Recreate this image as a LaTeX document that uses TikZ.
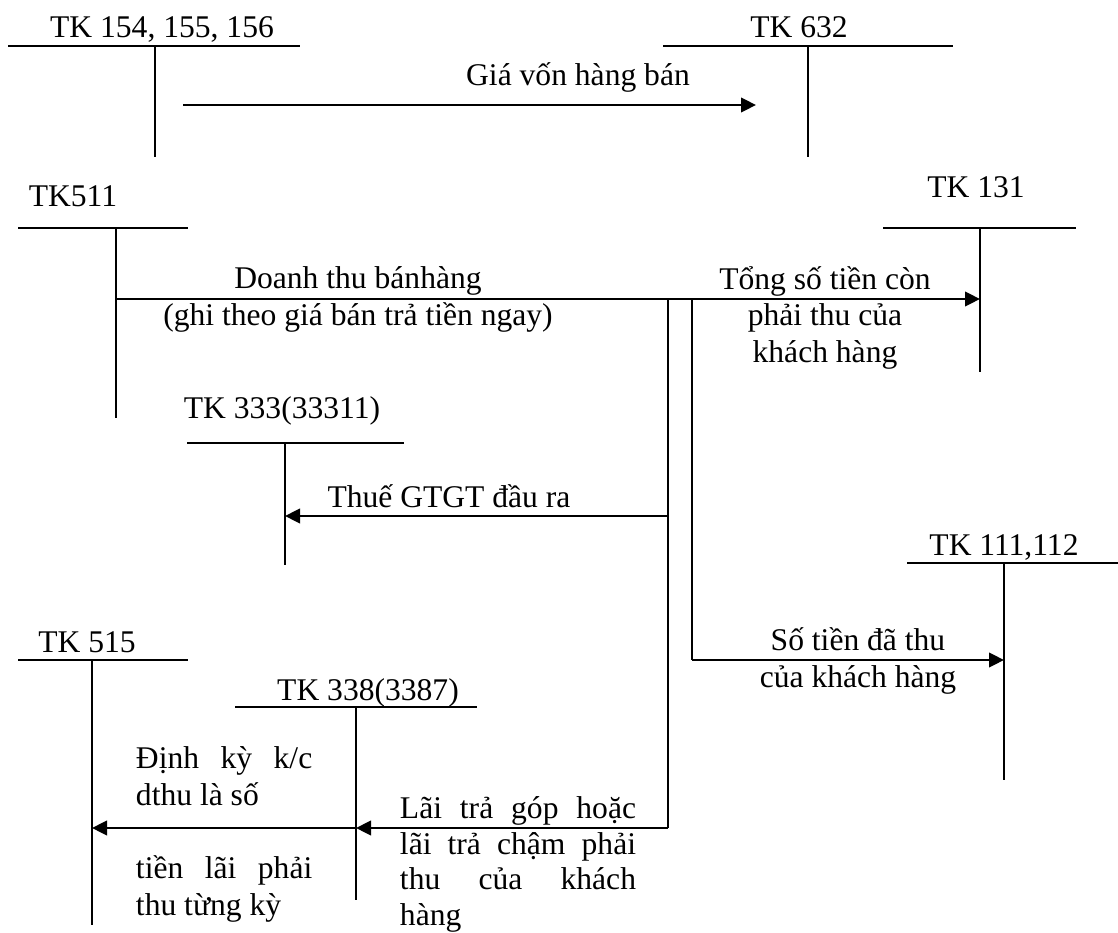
\documentclass[tikz,border=0pt]{standalone}
\usepackage{fontspec}
\setmainfont{Liberation Serif}
\usetikzlibrary{arrows.meta}

\newcommand{\spreadline}[2]{\makebox[#1][s]{#2}}

\begin{document}
\begin{tikzpicture}[x=0.38pt,y=-0.38pt,
    font=\fontsize{12pt}{13.8pt}\selectfont,
    line width=0.75pt,
    lbl/.style={anchor=base,inner sep=0pt},
    txt/.style={anchor=base west,inner sep=0pt,align=left},
    arr/.style={line width=1pt,-{Triangle[length=5.7pt,width=5.5pt]}}]
    \useasboundingbox (0,0) rectangle (1118,933);

    % T accounts: name / left / right / stem x / top / bottom
    \foreach \nm/\lx/\rx/\vx/\ty/\by in {t154/8/300/155/46/157, t632/663/953/808/46/157,
        t511/18/188/116/228/418, t131/883/1076/980/228/372,
        t333/187/404/285/443/565, t111/907/1118/1004/563/780,
        t515/18/188/92/660/925, t338/235/477/356/707/900} {
        \draw (\lx,\ty) -- (\rx,\ty);
        \draw (\vx,\ty) coordinate (\nm) -- (\vx,\by);
    }

    % account titles
    \node[lbl] (tk154) at (162,37) {TK 154, 155, 156};
    \node[lbl] (tk632) at (799,37) {TK 632};
    \node[lbl] (tk511) at (73,206) {TK511};
    \node[lbl] (tk131) at (976,197) {TK 131};
    \node[lbl] (tk333) at (282,418) {TK 333(33311)};
    \node[lbl] (tk111) at (1004,555) {TK 111,112};
    \node[lbl] (tk515) at (87,652) {TK 515};
    \node[lbl] (tk338) at (368,700) {TK 338(3387)};

    % cost of goods sold
    \coordinate (gv) at (183,105);
    \coordinate (gvend) at (756,105);
    \draw[arr] (gv) -- (gvend);
    \node[lbl] (gvlbl) at (578,85) {Giá vốn hàng bán};

    % sales revenue (multi-line labels sit on their last line)
    \coordinate (jn) at (595,299);
    \coordinate (br1) at (668,299);
    \coordinate (br2) at (692,299);
    \draw (t511 |- jn) -- ([xshift=3]jn);
    \draw[arr] (jn) -- (jn -| t131);
    \node[lbl,align=center] (dtlbl) at (358,325) {Doanh thu bánhàng\\(ghi theo giá bán trả tiền ngay)};
    \node[lbl,align=center] (tonglbl) at (825,362) {Tổng số tiền còn\\phải thu của\\khách hàng};

    % VAT
    \coordinate (thue) at (668,516);
    \coordinate (lai) at (668,828);
    \draw (br1) -- (lai);
    \draw[arr] (thue) -- (thue -| t333);
    \node[lbl] (thuelbl) at (449,507) {Thuế GTGT đầu ra};

    % cash received
    \coordinate (thu) at (692,660);
    \draw (br2) -- (thu);
    \draw[arr] (thu) -- (thu -| t111);
    \node[lbl,align=center] (thulbl) at (858,687) {Số tiền đã thu\\của khách hàng};

    % instalment interest
    \draw[arr] (lai) -- (lai -| t338);
    \draw[arr] (lai -| t338) -- (lai -| t515);
    \node[txt,font=\fontsize{12pt}{13.45pt}\selectfont] (lailbl) at (399,925)
        {\spreadline{89.7pt}{Lãi trả góp hoặc}\\
        \spreadline{89.7pt}{lãi trả chậm phải}\\\spreadline{89.7pt}{thu của khách}\\hàng};
    \node[txt] (dklbl) at (135,805) {\spreadline{67pt}{Định kỳ k/c}\\dthu là số};
    \node[txt] (tienlbl) at (135,915) {\spreadline{67pt}{tiền lãi phải}\\thu từng kỳ};
\end{tikzpicture}
\end{document}
